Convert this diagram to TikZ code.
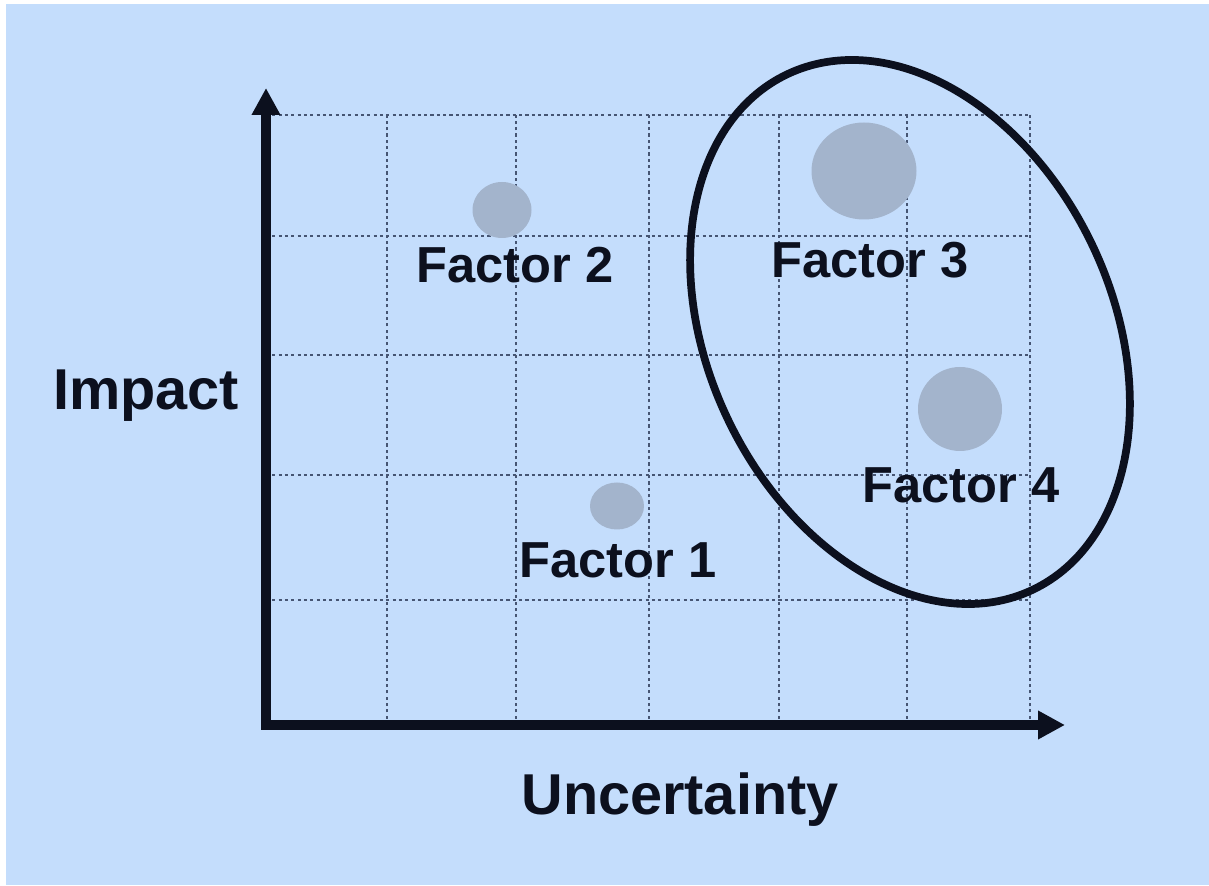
\documentclass[tikz,border=0pt]{standalone}
\usepackage{fontspec}
\setmainfont{Liberation Sans}
\usepackage{tikz}
\usetikzlibrary{arrows.meta,shapes.geometric}

\definecolor{bgblue}{RGB}{196,221,252}
\definecolor{dotblue}{RGB}{70,85,115}
\definecolor{blob}{RGB}{163,180,204}
\definecolor{ink}{RGB}{12,16,30}

\begin{document}
\begin{tikzpicture}[
		scale=1,
		gridline/.style={dotblue, line width=0.55pt, dash pattern=on 0.9pt off 0.9pt},
		axis/.style={ink, line width=2.6pt, {Triangle[length=0.27cm, width=0.27cm]}-{Triangle[length=0.27cm, width=0.27cm]}},
		blobby/.style={ellipse, fill=blob, inner sep=0pt},
		factor/.style={anchor=base, inner sep=0pt, text=ink, font=\fontsize{14.4}{17}\selectfont\bfseries},
		axislabel/.style={anchor=base, inner sep=0pt, text=ink, font=\fontsize{16.4}{19}\selectfont\bfseries}
	]
  \useasboundingbox (0,0) rectangle (12.09,8.86);
  \fill[bgblue] (0.06,0.01) rectangle (12.09,8.82);

  % grid
  \foreach \x in {3.87,5.16,6.49,7.79,9.07,10.30}
    \draw[gridline] (\x,1.61) -- (\x,7.71);
  \foreach \y in {2.86,4.11,5.31,6.50,7.71}
    \draw[gridline] (2.66,\y) -- (10.30,\y);

  % axes
  \coordinate (origin) at (2.66,1.61);
  \coordinate (ytip) at (2.66,7.98);
  \coordinate (xtip) at (10.65,1.61);
  \draw[axis] (ytip) -- (origin) -- (xtip);

  \node (impact) [axislabel] at (1.46,4.76) {Impact};
  \node (uncert) [axislabel] at (6.80,0.71) {Uncertainty};

  % factors
  \node (f1) [blobby, minimum width=0.54cm, minimum height=0.47cm] at (6.17,3.80) {};
  \node (f2) [blobby, minimum width=0.59cm, minimum height=0.56cm] at (5.02,6.76) {};
  \node (f3) [blobby, minimum width=1.05cm, minimum height=0.97cm] at (8.64,7.15) {};
  \node (f4) [blobby, minimum width=0.84cm, minimum height=0.84cm] at (9.60,4.77) {};

  \node (f1l) [factor] at (6.18,3.08) {Factor 1};
  \node (f2l) [factor] at (5.15,6.03) {Factor 2};
  \node (f3l) [factor] at (8.70,6.08) {Factor 3};
  \node (f4l) [factor] at (9.61,3.83) {Factor 4};

  % cluster
  \draw[ink, line width=2.2pt, rotate around={25.5:(9.10,5.54)}] (9.10,5.54) ellipse [x radius=2.02, y radius=2.855];
\end{tikzpicture}
\end{document}
